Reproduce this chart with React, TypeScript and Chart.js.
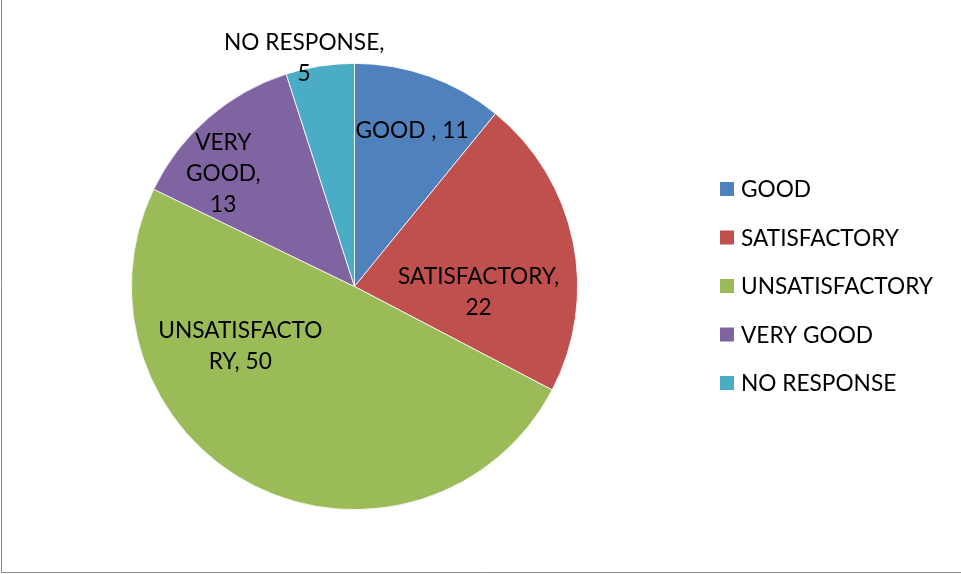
import React, { useEffect, useRef } from "react";
import { Chart, registerables } from "chart.js";

Chart.register(...registerables);

const categories = ["GOOD", "SATISFACTORY", "UNSATISFACTORY", "VERY GOOD", "NO RESPONSE"];
const values = [11, 22, 50, 13, 5];
const colors = ["#4F81BD", "#C0504D", "#9BBB59", "#8064A2", "#4BACC6"];
// label text lines as shown in the slices
const labelLines = [
  ["GOOD , 11"],
  ["SATISFACTORY,", "22"],
  ["UNSATISFACTO", "RY, 50"],
  ["VERY", "GOOD,", "13"],
  ["NO RESPONSE,", "5"],
];
// label placement: [angle shift deg from slice mid, radius fraction]
const labelPlacement = [
  [0.6, 0.746],
  [14.4, 0.557],
  [35.6, 0.578],
  [-8.3, 0.776],
  [-3.5, 1.05],
];

const FONT_FAMILY = "Lato, 'Liberation Sans', sans-serif";

function fitFontSize(ctx: CanvasRenderingContext2D, text: string, width: number) {
  ctx.font = `100px ${FONT_FAMILY}`;
  const w = ctx.measureText(text).width;
  return (width / w) * 100;
}

const overlayPlugin = {
  id: "overlay",
  afterDraw(chart: any) {
    const ctx: CanvasRenderingContext2D = chart.ctx;
    const meta = chart.getDatasetMeta(0);
    const size = fitFontSize(ctx, "UNSATISFACTORY", 192);
    const lineH = 31;
    ctx.save();
    ctx.font = `${size}px ${FONT_FAMILY}`;
    ctx.fillStyle = "#000";
    ctx.textAlign = "center";
    ctx.textBaseline = "middle";
    meta.data.forEach((arc: any, i: number) => {
      const { x, y, startAngle, endAngle, outerRadius } = arc.getProps(
        ["x", "y", "startAngle", "endAngle", "outerRadius"],
        true
      );
      const [shift, frac] = labelPlacement[i];
      const a = (startAngle + endAngle) / 2 + (shift * Math.PI) / 180;
      const cx = x + Math.cos(a) * outerRadius * frac;
      const cy = y + Math.sin(a) * outerRadius * frac;
      const lines = labelLines[i];
      lines.forEach((ln, j) => {
        ctx.fillText(ln, cx, cy + (j - (lines.length - 1) / 2) * lineH);
      });
    });
    // legend
    const lx = 720;
    const ly0 = 189;
    const step = 48.5;
    ctx.textAlign = "left";
    categories.forEach((c, i) => {
      const yy = ly0 + i * step;
      ctx.fillStyle = colors[i];
      ctx.fillRect(lx, yy - 7, 14, 14);
      ctx.fillStyle = "#000";
      ctx.fillText(c, lx + 21, yy + 1);
    });
    // frame lines
    ctx.strokeStyle = "#888888";
    ctx.lineWidth = 1;
    ctx.beginPath();
    ctx.moveTo(1.5, 0);
    ctx.lineTo(1.5, 572.5);
    ctx.lineTo(961, 572.5);
    ctx.stroke();
    ctx.restore();
  },
};

export default function App() {
  const ref = useRef<HTMLCanvasElement>(null);
  useEffect(() => {
    if (!ref.current) return;
    const chart = new Chart(ref.current, {
      type: "pie",
      data: {
        labels: categories,
        datasets: [
          {
            data: values,
            backgroundColor: colors,
            borderColor: "#ffffff",
            borderWidth: 0.8,
          },
        ],
      },
      options: {
        responsive: false,
        animation: false,
        layout: { padding: { left: 131, top: 63, right: 383, bottom: 64 } },
        plugins: {
          legend: { display: false },
          tooltip: { enabled: false },
        },
      },
      plugins: [overlayPlugin],
    });
    return () => chart.destroy();
  }, []);
  return (
    <div style={{ position: "fixed", left: 0, top: 0, width: 961, height: 574, background: "#fff" }}>
      <canvas ref={ref} width={961} height={574} style={{ display: "block" }} />
    </div>
  );
}
